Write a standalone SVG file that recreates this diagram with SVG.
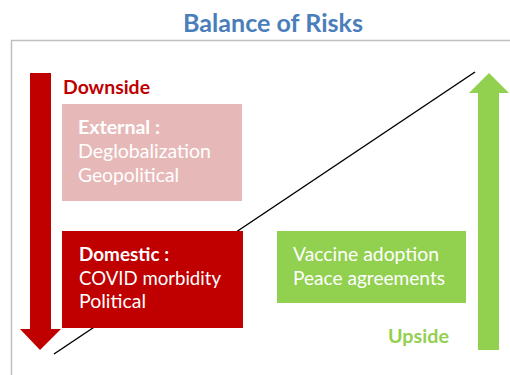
<svg xmlns="http://www.w3.org/2000/svg" width="510" height="375" viewBox="0 0 510 375">
  <style>
    text { font-family: Lato, "Open Sans", "Liberation Sans", sans-serif; }
    .title { font-size: 24px; font-weight: bold; fill: #4A7EBB; }
    .lbl { font-size: 18.5px; fill: #FFFFFF; }
    .b { font-weight: bold; }
    .side { font-size: 18px; font-weight: bold; }
  </style>
  <rect width="510" height="375" fill="#FFFFFF"/>
  <text class="title" x="183" y="32" textLength="180" lengthAdjust="spacingAndGlyphs">Balance of Risks</text>
  <!-- frame -->
  <path d="M11.5,375 V40.5 H510" fill="none" stroke="#BFBFBF" stroke-width="1.5"/>
  <g id="connectors">
    <line x1="54" y1="354" x2="475" y2="72" stroke="#000000" stroke-width="1.5"/>
  </g>
  <g id="downside-arrow">
    <polygon points="30,73 51,73 51,329 61,329 40,350 20,329 30,329" fill="#C00000"/>
    <text class="side" x="63" y="94" fill="#C00000" textLength="87" lengthAdjust="spacingAndGlyphs">Downside</text>
  </g>
  <g id="upside-arrow">
    <polygon points="478,350 499,350 499,93 509,93 489,73 469,93 478,93" fill="#92D050"/>
    <text class="side" x="388" y="343" fill="#92D050" textLength="61" lengthAdjust="spacingAndGlyphs">Upside</text>
  </g>
  <g id="external">
    <rect x="62" y="104" width="180" height="97" fill="#E6B9B8"/>
    <text class="lbl b" x="78" y="134" textLength="82" lengthAdjust="spacingAndGlyphs">External :</text>
    <text class="lbl" x="78" y="158" textLength="133" lengthAdjust="spacingAndGlyphs">Deglobalization</text>
    <text class="lbl" x="78" y="182" textLength="101" lengthAdjust="spacingAndGlyphs">Geopolitical</text>
  </g>
  <g id="domestic">
    <rect x="62" y="231" width="181" height="97" fill="#C00000"/>
    <text class="lbl b" x="79" y="261" textLength="90" lengthAdjust="spacingAndGlyphs">Domestic :</text>
    <text class="lbl" x="79" y="285" textLength="142" lengthAdjust="spacingAndGlyphs">COVID morbidity</text>
    <text class="lbl" x="79" y="308" textLength="67" lengthAdjust="spacingAndGlyphs">Political</text>
  </g>
  <g id="mitigants">
    <rect x="277" y="231" width="189" height="72" fill="#92D050"/>
    <text class="lbl" x="293" y="261" textLength="146" lengthAdjust="spacingAndGlyphs">Vaccine adoption</text>
    <text class="lbl" x="293" y="285" textLength="152" lengthAdjust="spacingAndGlyphs">Peace agreements</text>
  </g>
</svg>
